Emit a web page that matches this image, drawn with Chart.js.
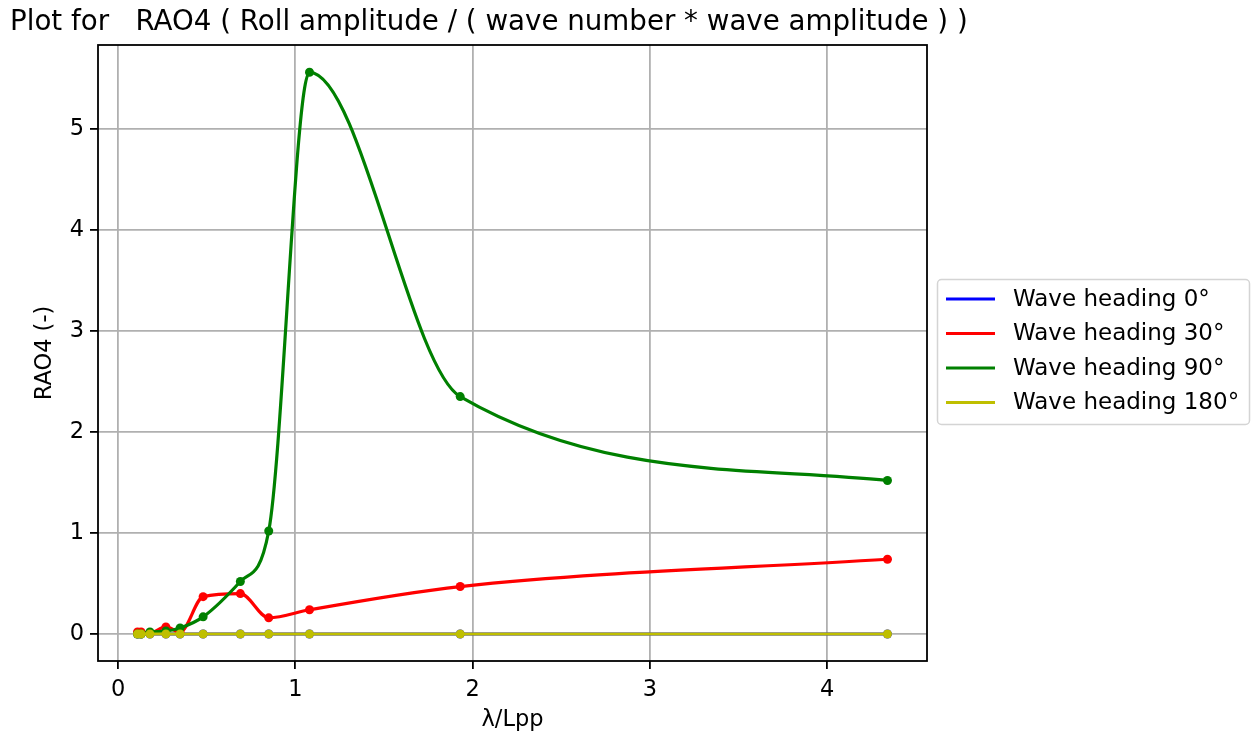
<!DOCTYPE html>
<html>
<head>
<meta charset="utf-8">
<title>RAO4</title>
<script src="https://cdn.jsdelivr.net/npm/chart.js@4.4.1/dist/chart.umd.min.js"></script>
<style>
  html, body { margin: 0; padding: 0; background: #fff; }
  #wrap { width: 1253px; height: 735px; }
</style>
</head>
<body>
<div id="wrap"><canvas id="rao" width="1253" height="735"></canvas></div>
<script>
// wavelength over ship length
const lambdaLpp = [0.11, 0.13, 0.18, 0.27, 0.35, 0.48, 0.69, 0.85, 1.08, 1.93, 4.34];

// roll RAO per wave heading
const heading0   = [0, 0, 0, 0, 0, 0, 0, 0, 0, 0, 0];
const heading30  = [0.02, 0.02, 0.01, 0.07, 0.02, 0.37, 0.40, 0.16, 0.24, 0.47, 0.74];
const heading90  = [0.0, 0.0, 0.02, 0.03, 0.06, 0.17, 0.52, 1.02, 5.56, 2.35, 1.52];
const heading180 = [0, 0, 0, 0, 0, 0, 0, 0, 0, 0, 0];

const seriesNames = ['Wave heading 0°', 'Wave heading 30°', 'Wave heading 90°', 'Wave heading 180°'];
const seriesColors = ['#0000ff', '#ff0000', '#008000', '#bfbf00'];
const seriesValues = [heading0, heading30, heading90, heading180];

const xTicks = [0, 1, 2, 3, 4];
const yTicks = [0, 1, 2, 3, 4, 5];

const FONT = 'DejaVu Sans';
const FS = 22.5;

const datasets = seriesValues.map((vals, i) => ({
    label: seriesNames[i],
    data: vals.map((v, k) => ({ x: lambdaLpp[k], y: v })),
    borderColor: seriesColors[i],
    backgroundColor: seriesColors[i],
    borderWidth: 3.2,
    pointRadius: 4.5,
    pointBorderWidth: 0,
    pointHoverRadius: 4.5,
    cubicInterpolationMode: 'monotone',
    // last series ends up on top
    order: seriesValues.length - i
}));

// title, frame and legend
const decor = {
    id: 'decor',
    afterDatasetsDraw(chart) {
        const ctx = chart.ctx;
        const a = chart.chartArea;
        ctx.save();
        ctx.strokeStyle = '#000';
        ctx.lineWidth = 1.8;
        ctx.strokeRect(a.left, a.top, a.right - a.left, a.bottom - a.top);
        ctx.restore();
    },
    afterDraw(chart) {
        const ctx = chart.ctx;
        ctx.save();
        ctx.fillStyle = '#000';
        ctx.font = '27.7px "' + FONT + '"';
        ctx.textBaseline = 'middle';
        ctx.textAlign = 'left';
        ctx.fillText('Plot for   RAO4 ( Roll amplitude / ( wave number * wave amplitude ) )', 10, 23);

        // legend box
        const bx = 937.5, by = 279.5, bw = 312, bh = 145, r = 4;
        ctx.beginPath();
        ctx.moveTo(bx + r, by);
        ctx.arcTo(bx + bw, by, bx + bw, by + bh, r);
        ctx.arcTo(bx + bw, by + bh, bx, by + bh, r);
        ctx.arcTo(bx, by + bh, bx, by, r);
        ctx.arcTo(bx, by, bx + bw, by, r);
        ctx.closePath();
        ctx.fillStyle = 'rgba(255,255,255,0.8)';
        ctx.fill();
        ctx.strokeStyle = '#d4d4d4';
        ctx.lineWidth = 1.5;
        ctx.stroke();

        ctx.font = '23px "' + FONT + '"';
        seriesNames.forEach((name, i) => {
            const y = 299 + i * 34.5;
            ctx.strokeStyle = seriesColors[i];
            ctx.lineWidth = 3.2;
            ctx.beginPath();
            ctx.moveTo(946, y);
            ctx.lineTo(995, y);
            ctx.stroke();
            ctx.fillStyle = '#000';
            ctx.fillText(name, 1013, y + 1);
        });
        ctx.restore();
    }
};

new Chart(document.getElementById('rao'), {
    type: 'line',
    data: { datasets },
    options: {
        responsive: false,
        animation: false,
        devicePixelRatio: 1,
        layout: { padding: { left: 0, right: 326, top: 45, bottom: 0 } },
        plugins: {
            legend: { display: false },
            tooltip: { enabled: false }
        },
        scales: {
            x: {
                type: 'linear',
                min: -0.113,
                max: 4.563,
                afterFit(scale) { scale.height = 74; },
                afterBuildTicks(scale) { scale.ticks = xTicks.map(v => ({ value: v })); },
                grid: { color: '#b0b0b0', lineWidth: 1.8, tickColor: '#000', tickLength: 8, tickWidth: 1.8 },
                border: { display: false },
                ticks: { color: '#000', padding: 8, font: { family: FONT, size: FS } },
                title: {
                    display: true, text: 'λ/Lpp', color: '#000',
                    font: { family: FONT, size: FS }, padding: { top: 0, bottom: 1.5 }
                }
            },
            y: {
                type: 'linear',
                min: -0.267,
                max: 5.83,
                afterFit(scale) { scale.width = 98; },
                afterBuildTicks(scale) { scale.ticks = yTicks.map(v => ({ value: v })); },
                grid: { color: '#b0b0b0', lineWidth: 1.8, tickColor: '#000', tickLength: 8, tickWidth: 1.8 },
                border: { display: false },
                ticks: { color: '#000', padding: 6, font: { family: FONT, size: FS } },
                title: {
                    display: true, text: 'RAO4 (-)', color: '#000',
                    font: { family: FONT, size: FS }, padding: { top: 32, bottom: 0 }
                }
            }
        }
    },
    plugins: [decor]
});
</script>
</body>
</html>
